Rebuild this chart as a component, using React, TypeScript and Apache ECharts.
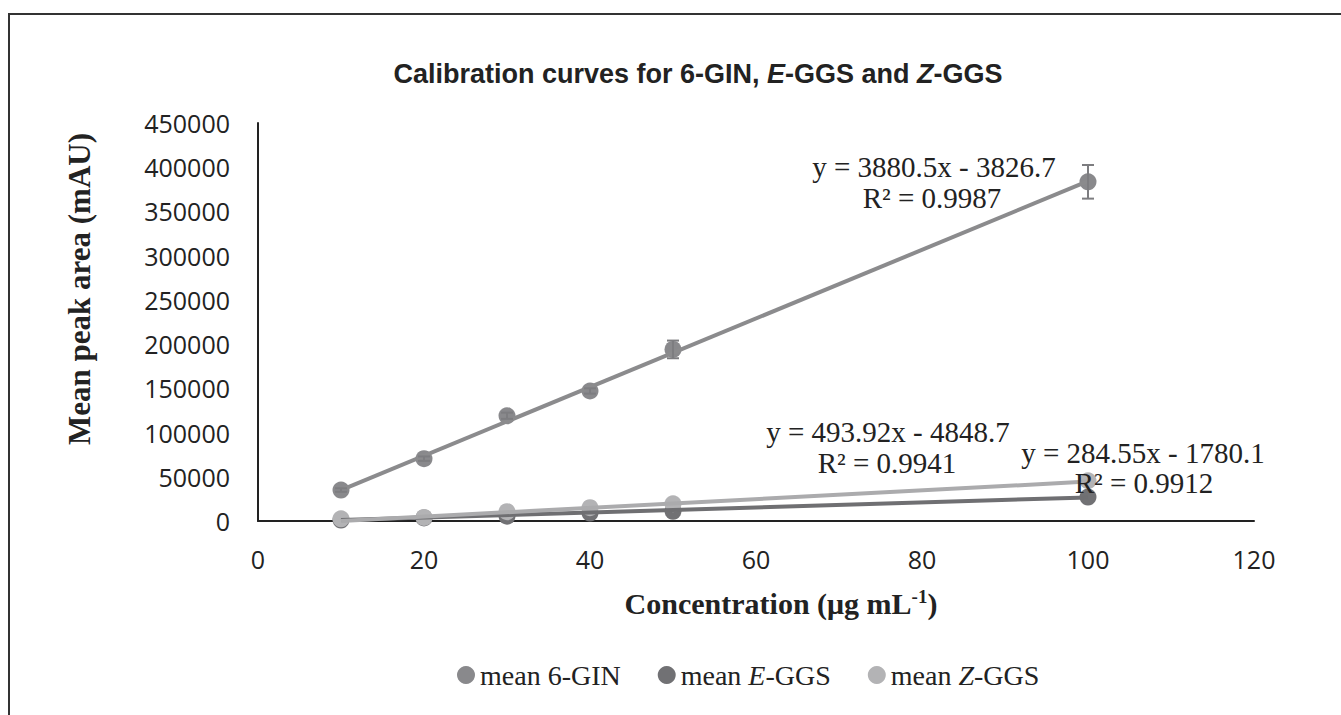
import React, { useEffect, useRef } from "react";
import * as echarts from "echarts";

const concentration = [10, 20, 30, 40, 50, 100];
const gin = [35000, 70500, 119000, 147000, 194000, 383500];
const ginErr = [2000, 2500, 3500, 3000, 10000, 19000];
const eggs = [1000, 3500, 5500, 9000, 11000, 27000];
const zggs = [2500, 4000, 10500, 15000, 19500, 45500];

const trendSlope = [3880.5, 284.55, 493.92];
const trendIntercept = [-3826.7, -1780.1, -4848.7];
const trendR2 = ["0.9987", "0.9912", "0.9941"];

const seriesNames = ["mean 6-GIN", "mean E-GGS", "mean Z-GGS"];
const markerColors = ["#89898c", "#717174", "#b3b3b5"];
const lineColors = ["#8b8b8d", "#6f6f72", "#ababad"];

const yTicks = { min: 0, max: 450000, interval: 50000 };
const xTicks = { min: 0, max: 120, interval: 20 };

const SERIF = "'Liberation Serif', 'Times New Roman', serif";
const SANS = "'Liberation Sans', Arial, sans-serif";
const TICK = "'Open Sans', sans-serif";

function eqText(i: number) {
  const b = trendIntercept[i];
  const sign = b < 0 ? "-" : "+";
  return `y = ${trendSlope[i]}x ${sign} ${Math.abs(b)}`;
}

export default function App() {
  const ref = useRef<HTMLDivElement>(null);
  useEffect(() => {
    document.body.style.margin = "0";
    if (!ref.current) return;
    const chart = echarts.init(ref.current, null, { renderer: "svg" });
    const allY = [gin, eggs, zggs];
    const xFirst = concentration[0];
    const xLast = concentration[concentration.length - 1];

    const scatterSeries = allY.map((ys, i) => ({
      name: seriesNames[i],
      type: "scatter",
      symbol: "circle",
      symbolSize: 17,
      itemStyle: { color: markerColors[i], opacity: 1 },
      data: concentration.map((x, k) => [x, ys[k]]),
      z: 3,
    }));

    const trendSeries = allY.map((_, i) => ({
      name: "trend" + i,
      type: "line",
      symbol: "none",
      silent: true,
      lineStyle: { color: lineColors[i], width: 4 },
      data: [
        [xFirst, trendSlope[i] * xFirst + trendIntercept[i]],
        [xLast, trendSlope[i] * xLast + trendIntercept[i]],
      ],
      z: 4,
    }));

    const errSeries = {
      type: "custom",
      silent: true,
      z: 5,
      data: concentration.map((x, k) => [x, gin[k], ginErr[k]]),
      renderItem: (params: any, api: any) => {
        const x = api.value(0);
        const y = api.value(1);
        const e = api.value(2);
        const top = api.coord([x, y + e]);
        const bot = api.coord([x, y - e]);
        const w = 6;
        const style = { stroke: "#7d7d80", lineWidth: 2 };
        return {
          type: "group",
          children: [
            { type: "line", shape: { x1: top[0], y1: top[1], x2: bot[0], y2: bot[1] }, style },
            { type: "line", shape: { x1: top[0] - w, y1: top[1], x2: top[0] + w, y2: top[1] }, style },
            { type: "line", shape: { x1: bot[0] - w, y1: bot[1], x2: bot[0] + w, y2: bot[1] }, style },
          ],
        };
      },
    };

    const eqStyle = { fontFamily: SERIF, fontSize: 29, fill: "#222", align: "center" };
    const eqPos = [
      [934, 167, 932, 198],
      [1143, 453, 1144, 483],
      [888, 432, 887, 463],
    ];
    const eqGraphics: any[] = [];
    for (let i = 0; i < 3; i++) {
      const p = eqPos[i];
      eqGraphics.push({
        type: "text",
        x: p[0],
        y: p[1],
        style: { ...eqStyle, text: eqText(i), verticalAlign: "middle" },
        z: 10,
      });
      eqGraphics.push({
        type: "text",
        x: p[2],
        y: p[3],
        style: { ...eqStyle, text: `R² = ${trendR2[i]}`, verticalAlign: "middle" },
        z: 10,
      });
    }

    const option: any = {
      animation: false,
      backgroundColor: "#ffffff",
      title: {
        text: "Calibration curves for 6-GIN, {i|E}-GGS and {i|Z}-GGS",
        left: 693,
        top: 55,
        textAlign: "center",
        textStyle: {
          fontFamily: SANS,
          fontSize: 27,
          fontWeight: "bold",
          color: "#222",
          rich: {
            i: { fontFamily: SANS, fontSize: 27, fontWeight: "bold", fontStyle: "italic", color: "#222" },
          },
        },
      },
      legend: {
        data: seriesNames,
        left: 452,
        top: 656,
        icon: "circle",
        itemWidth: 18,
        itemHeight: 18,
        itemGap: 37,
        formatter: (name: string) => {
          if (name === "mean E-GGS") return "mean {i|E}-GGS";
          if (name === "mean Z-GGS") return "mean {i|Z}-GGS";
          return name;
        },
        textStyle: {
          fontFamily: SERIF,
          fontSize: 28,
          color: "#222",
          rich: {
            i: { fontFamily: SERIF, fontSize: 28, fontStyle: "italic", color: "#222" },
          },
        },
      },
      grid: { left: 258, top: 123, width: 996, height: 398, containLabel: false },
      xAxis: {
        type: "value",
        min: xTicks.min,
        max: xTicks.max,
        interval: xTicks.interval,
        splitLine: { show: false },
        axisTick: { show: false },
        axisLine: { show: true, onZero: false, lineStyle: { color: "#222", width: 2 } },
        axisLabel: { fontFamily: TICK, fontSize: 25, color: "#222", margin: 25 },
      },
      yAxis: {
        type: "value",
        min: yTicks.min,
        max: yTicks.max,
        interval: yTicks.interval,
        splitLine: { show: false },
        axisTick: { show: false },
        axisLine: { show: true, lineStyle: { color: "#222", width: 2 } },
        axisLabel: {
          fontFamily: TICK,
          fontSize: 25,
          color: "#222",
          margin: 28,
          formatter: (v: number) => String(v),
        },
      },
      graphic: [
        {
          type: "rect",
          shape: { x: 9, y: 14, width: 2000, height: 2000 },
          style: { fill: "none", stroke: "#333", lineWidth: 2 },
          silent: true,
          z: -1,
        },
        {
          type: "text",
          x: 79,
          y: 289,
          rotation: Math.PI / 2,
          style: {
            text: "Mean peak area (mAU)",
            fontFamily: SERIF,
            fontSize: 31,
            fontWeight: "bold",
            fill: "#222",
            align: "center",
            verticalAlign: "middle",
          },
        },
        {
          type: "text",
          x: 781,
          y: 603,
          style: {
            text: "Concentration (μg mL{sup|-1})",
            fontFamily: SERIF,
            fontSize: 30,
            fontWeight: "bold",
            fill: "#222",
            align: "center",
            verticalAlign: "middle",
            rich: {
              sup: { fontFamily: SERIF, fontSize: 19, fontWeight: "bold", fill: "#222", padding: [0, 0, 14, 0] },
            },
          },
        },
        ...eqGraphics,
      ],
      series: [...scatterSeries, errSeries, ...trendSeries],
    };
    chart.setOption(option);
    return () => chart.dispose();
  }, []);
  return <div ref={ref} style={{ width: 1341, height: 715 }} />;
}
